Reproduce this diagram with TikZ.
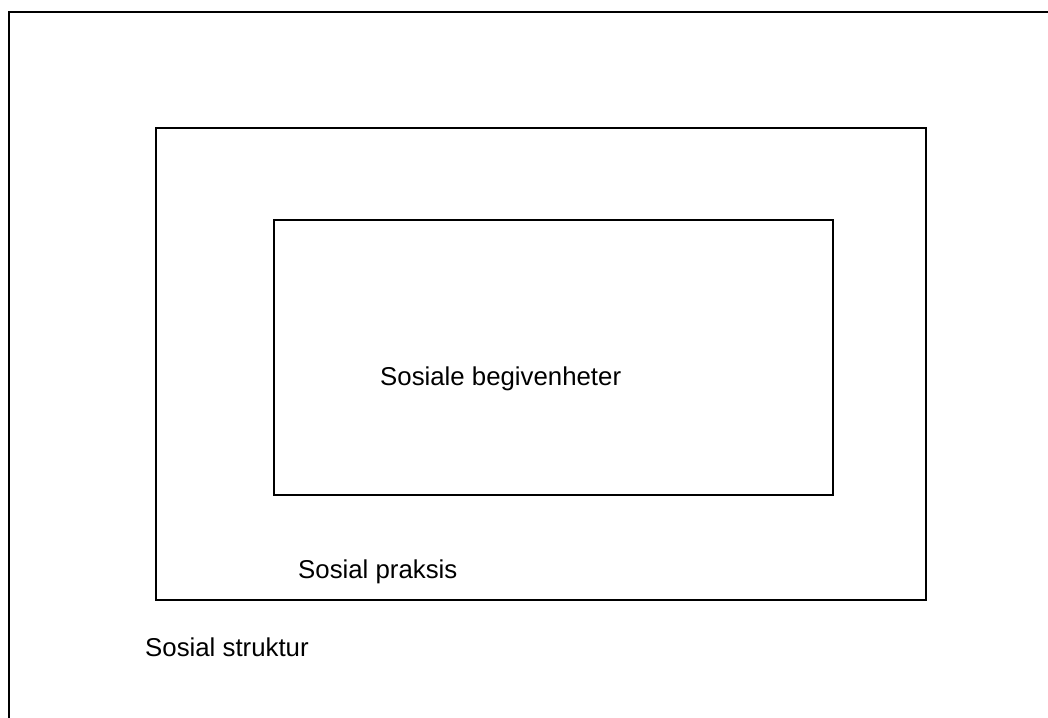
\documentclass[tikz,border=0pt]{standalone}
\usepackage{fontspec}
\setmainfont{Liberation Sans}
\begin{document}
\begin{tikzpicture}[x=1pt,y=-1pt,
  frame/.style={draw=black,line width=2.2pt,rectangle,inner sep=0pt},
  caption/.style={anchor=base west,inner sep=0pt,font=\fontsize{25.8}{30}\selectfont}]
  \useasboundingbox (0,0) rectangle (1048,717);
  \clip (0,0) rectangle (1048,717);
  \fill[white] (0,0) rectangle (1048,717);
  % outer frame (runs past the page on the right and bottom)
  \node[frame,minimum width=1100pt,minimum height=760pt,anchor=north west] (struktur) at (8,11) {};
  % middle frame
  \node[frame,minimum width=770pt,minimum height=472pt,anchor=north west] (praksis) at (155,127) {};
  % inner frame
  \node[frame,minimum width=559pt,minimum height=275pt,anchor=north west] (begivenheter) at (273,219) {};
  % captions
  \node[caption] (tb) at (380,385) {Sosiale begivenheter};
  \node[caption] (tp) at (298,578) {Sosial praksis};
  \node[caption] (ts) at (145,656) {Sosial struktur};
\end{tikzpicture}
\end{document}
